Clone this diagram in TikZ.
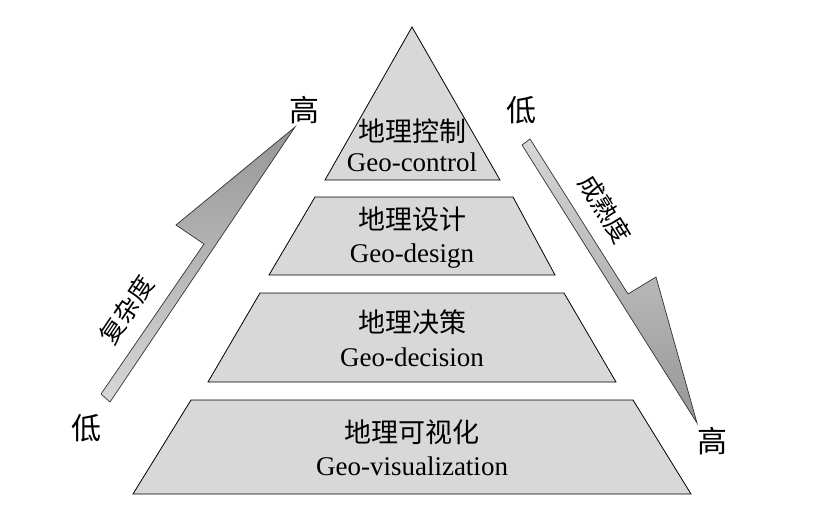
\documentclass[tikz,border=0pt]{standalone}
\usepackage{fontspec}
\setmainfont{Liberation Serif}
\newfontfamily\cjk{Noto Sans CJK SC}
\definecolor{layerfill}{RGB}{216,216,216}
\definecolor{arrowdark}{RGB}{150,150,150}
\definecolor{arrowlight}{RGB}{215,215,215}
\begin{document}
\begin{tikzpicture}[x=1pt,y=-1pt,
  layer/.style={draw=black, line width=0.8pt, fill=layerfill, line join=miter},
  zh/.style={font=\cjk\fontsize{27}{29}\selectfont, inner sep=0pt},
  rzh/.style={font=\cjk\fontsize{25}{27}\selectfont, inner sep=0pt},
  en/.style={font=\fontsize{27}{29}\selectfont, inner sep=0pt},
  lvl/.style={font=\cjk\fontsize{30}{32}\selectfont, inner sep=0pt},
  bigarrow/.style={draw=black!80, line width=0.7pt, line join=miter}]
\useasboundingbox (0,0) rectangle (816,524);
\fill[white] (0,0) rectangle (816,524);

% pyramid layers
\draw[layer] (412,27) -- (500,180) -- (325,180) -- cycle;
\draw[layer] (315,197) -- (513,197) -- (555,275) -- (269,275) -- cycle;
\draw[layer] (260,293) -- (564,293) -- (616,382) -- (208,382) -- cycle;
\draw[layer] (191,400) -- (633,400) -- (691,494) -- (133,494) -- cycle;

% layer texts
\node[zh] (c1) at (412,131) {地理控制};
\node[en] (e1) at (412,162) {Geo-control};
\node[zh] (c2) at (412,219) {地理设计};
\node[en] (e2) at (412,256) {Geo-design};
\node[zh] (c3) at (412,322) {地理决策};
\node[en] (e3) at (412,357) {Geo-decision};
\node[zh] (c4) at (412,432) {地理可视化};
\node[en] (e4) at (412,466) {Geo-visualization};

% left arrow (complexity)
\draw[bigarrow, top color=arrowdark, bottom color=arrowlight]
  (101,394) -- (204,244) -- (176,225) -- (295,127) -- (110,402) -- cycle;
\node[rzh, rotate=56] (cx) at (127,310) {复杂度};
\node[lvl] (lh) at (304,110) {高};
\node[lvl] (ll) at (86,428) {低};

% right arrow (maturity)
\draw[bigarrow, top color=arrowlight, bottom color=arrowdark]
  (522,145) -- (530,139) -- (628,294) -- (656,277) -- (697,423) -- cycle;
\node[rzh, rotate=-58] (mt) at (605,209) {成熟度};
\node[lvl] (rl) at (521,110) {低};
\node[lvl] (rh) at (712,441) {高};
\end{tikzpicture}
\end{document}
